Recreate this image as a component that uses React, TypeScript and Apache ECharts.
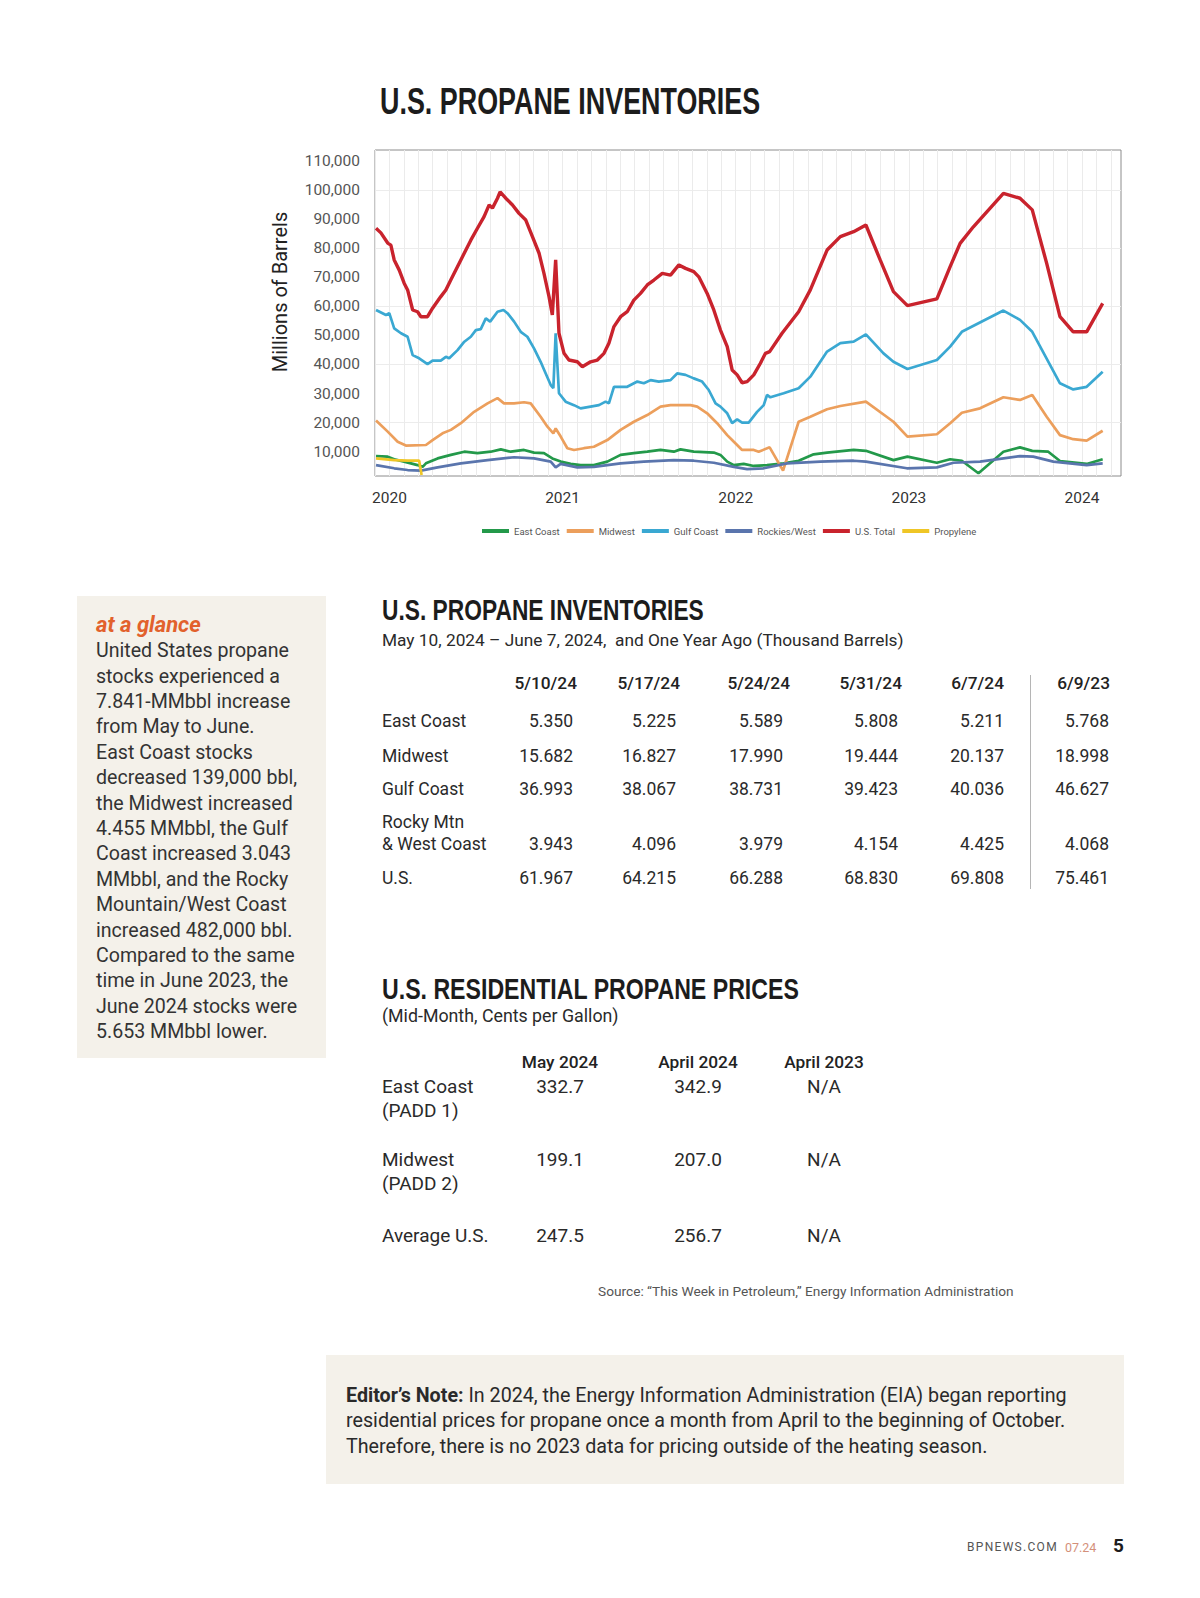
import React, { useEffect, useRef } from "react";
import * as echarts from "echarts";

// ---------- chart data (x = months since Jan 2020, y = thousand barrels) ----------
const YEAR_LABELS = ["2020", "2021", "2022", "2023", "2024"];
const Y_TICKS = [10000, 20000, 30000, 40000, 50000, 60000, 70000, 80000, 90000, 100000, 110000];
const Y_GRID = [20000, 40000, 60000, 80000, 100000];

const EAST_COAST: number[][] = [
  [-0.93, 8500], [-0.12, 8300], [0.33, 7400], [1.02, 6600], [1.95, 5400], [2.3, 4800], [2.53, 6000], [3.34, 7700],
  [4.26, 8900], [5.19, 10000], [6.1, 9500], [7.02, 10000], [7.72, 10800], [8.41, 10000], [9.33, 10600], [10.02, 9700],
  [10.71, 9500], [11.29, 7700], [11.87, 6600], [12.56, 5800], [13.25, 5400], [14.17, 5400], [15.1, 6600], [16.02, 8900],
  [16.94, 9500], [17.87, 10000], [18.79, 10600], [19.71, 10000], [20.17, 10800], [21.09, 10000], [22.48, 9700],
  [22.94, 8900], [23.41, 6600], [23.87, 5400], [24.55, 5800], [25.25, 5100], [26.17, 5400], [27.32, 6000], [28.36, 6900],
  [29.4, 9100], [30.33, 9700], [32.17, 10600], [33.02, 10300], [34.93, 7100], [35.9, 8300], [37.94, 6200], [38.86, 7400],
  [39.67, 6900], [40.82, 2600], [42.55, 10000], [43.7, 11500], [44.55, 10300], [45.66, 10000], [46.47, 6800],
  [48.32, 5800], [49.43, 7400],
];
const MIDWEST: number[][] = [
  [-0.93, 20700], [-0.12, 16900], [0.57, 13400], [1.14, 12100], [2.53, 12300], [2.99, 14000], [3.68, 16300], [4.26, 17500],
  [4.95, 19800], [5.87, 23700], [6.8, 26600], [7.49, 28400], [7.94, 26600], [8.64, 26600], [9.33, 27000], [9.79, 26600],
  [10.48, 22000], [10.95, 18600], [11.36, 16300], [11.52, 18000], [11.87, 15200], [12.33, 11200], [12.79, 10600],
  [13.48, 11200], [14.17, 11700], [15.1, 14000], [16.02, 17500], [16.94, 20300], [17.87, 22600], [18.79, 25500],
  [19.48, 26000], [20.87, 26000], [21.33, 25500], [22.02, 23200], [22.71, 19800], [23.41, 15700], [23.87, 13400],
  [24.44, 10600], [25.25, 10600], [25.59, 10000], [26.35, 11500], [27.28, 3500], [28.36, 20300], [29.17, 22000],
  [30.33, 24600], [31.25, 25700], [33.02, 27200], [34.93, 20300], [35.9, 15200], [37.94, 16000], [38.86, 19800],
  [39.67, 23400], [40.93, 24900], [42.55, 28700], [43.7, 27800], [44.55, 29500], [45.55, 22000], [46.47, 15700],
  [47.39, 14300], [48.32, 13800], [49.43, 17200],
];
const GULF_COAST: number[][] = [
  [-0.93, 58700], [-0.24, 57000], [-0.01, 57600], [0.33, 52400], [0.8, 50700], [1.26, 49500], [1.61, 43200], [2.06, 42100],
  [2.64, 40100], [2.99, 41300], [3.56, 41300], [3.91, 42600], [4.14, 42100], [4.72, 44900], [5.19, 47800], [5.64, 49500],
  [5.99, 51800], [6.33, 52100], [6.68, 55800], [6.98, 54700], [7.49, 58100], [7.9, 58700], [8.18, 57600], [8.64, 54700],
  [9.1, 51200], [9.56, 49500], [10.02, 45500], [10.48, 40900], [10.83, 36900], [11.18, 32900], [11.36, 31800],
  [11.52, 50700], [11.75, 30100], [12.21, 27200], [12.79, 26000], [13.25, 24900], [13.94, 25500], [14.52, 26000],
  [14.98, 27200], [15.21, 26600], [15.56, 32300], [16.48, 32300], [17.18, 34100], [17.63, 33500], [18.1, 34600],
  [18.67, 34100], [19.48, 34600], [19.94, 36900], [20.52, 36400], [21.09, 35200], [21.67, 34100], [22.13, 31200],
  [22.6, 26600], [22.94, 25500], [23.41, 23200], [23.75, 19800], [24.1, 21100], [24.44, 20000], [24.9, 20000],
  [25.48, 23700], [25.94, 26000], [26.17, 29500], [26.4, 28700], [27.32, 30100], [28.36, 31800], [29.17, 35800],
  [30.33, 44400], [31.25, 47300], [32.17, 47800], [33.02, 50300], [34.24, 43800], [34.93, 40900], [35.9, 38400],
  [37.94, 41500], [38.86, 46100], [39.67, 51200], [42.55, 58500], [43.7, 55300], [44.55, 51200], [46.47, 33500],
  [47.39, 31400], [48.32, 32300], [49.43, 37500],
];
const ROCKIES_WEST: number[][] = [
  [-0.93, 5400], [0.33, 4300], [1.26, 3700], [2.18, 3500], [3.34, 4600], [4.95, 6000], [6.8, 7100], [8.64, 8100],
  [10.02, 7700], [11.18, 6600], [11.52, 4600], [11.87, 5800], [13.02, 4600], [14.17, 4800], [16.02, 6000], [17.63, 6600],
  [19.71, 7100], [21.09, 6900], [22.48, 6200], [23.87, 4800], [24.79, 4000], [25.94, 4300], [27.56, 6000], [29.86, 6600],
  [32.17, 6900], [33.02, 6600], [35.86, 4300], [37.94, 4600], [39.09, 6200], [40.93, 6600], [43.7, 8500], [44.62, 8300],
  [46.01, 6600], [48.32, 5400], [49.43, 6000],
];
const US_TOTAL: number[][] = [
  [-0.93, 86800], [-0.59, 85200], [-0.12, 81700], [0.1, 81000], [0.33, 75900], [0.68, 72400], [1.02, 67900], [1.26, 65600],
  [1.61, 58700], [1.95, 58100], [2.18, 56400], [2.64, 56400], [2.99, 59300], [3.56, 63300], [3.91, 65600], [4.26, 69100],
  [4.95, 75900], [5.64, 82700], [6.1, 86800], [6.56, 90800], [6.91, 94800], [7.14, 93700], [7.49, 97100], [7.67, 99300],
  [8.06, 97100], [8.53, 94800], [8.98, 91900], [9.45, 89600], [9.91, 83900], [10.37, 78200], [10.71, 71300], [11.06, 63300],
  [11.29, 57000], [11.52, 75900], [11.75, 50700], [12.1, 43800], [12.44, 41500], [13.02, 40900], [13.37, 39200],
  [13.94, 40900], [14.41, 41500], [14.87, 43800], [15.21, 47300], [15.56, 53000], [16.02, 56400], [16.48, 58100],
  [16.94, 62100], [17.4, 64400], [17.87, 67300], [18.33, 69000], [18.91, 71300], [19.48, 70700], [20.06, 74200],
  [20.52, 73000], [21.09, 71900], [21.44, 70100], [22.02, 64400], [22.48, 58700], [22.94, 51800], [23.41, 46100],
  [23.75, 38100], [24.1, 36400], [24.44, 33700], [24.79, 34100], [25.25, 36400], [25.71, 40400], [26.06, 43800],
  [26.35, 44400], [27.21, 50700], [28.36, 58100], [29.17, 65600], [30.33, 79300], [31.25, 83900], [32.17, 85600],
  [33.02, 87900], [34.01, 75900], [34.93, 65000], [35.9, 60200], [37.94, 62500], [38.86, 73600], [39.55, 81600],
  [40.47, 87300], [42.55, 98800], [43.7, 97100], [44.55, 93100], [45.55, 74700], [46.47, 56400], [47.39, 51200],
  [48.32, 51200], [49.43, 61000],
];
const PROPYLENE: number[][] = [
  [-0.93, 7700], [0.33, 7100], [1.26, 6900], [2.06, 6900], [2.23, 2000],
];

const SERIES_NAMES = ["East Coast", "Midwest", "Gulf Coast", "Rockies/West", "U.S. Total", "Propylene"];
const SERIES_DATA = [EAST_COAST, MIDWEST, GULF_COAST, ROCKIES_WEST, US_TOTAL, PROPYLENE];
const SERIES_COLORS = ["#23994a", "#ec9f5c", "#3aa8d2", "#5a75ad", "#c9232d", "#efc626"];

// ---------- tables ----------
const INV_DATES = ["5/10/24", "5/17/24", "5/24/24", "5/31/24", "6/7/24", "6/9/23"];
const INV_LABELS = [["East Coast"], ["Midwest"], ["Gulf Coast"], ["Rocky Mtn", "& West Coast"], ["U.S."]];
const INV_EAST = ["5.350", "5.225", "5.589", "5.808", "5.211", "5.768"];
const INV_MIDWEST = ["15.682", "16.827", "17.990", "19.444", "20.137", "18.998"];
const INV_GULF = ["36.993", "38.067", "38.731", "39.423", "40.036", "46.627"];
const INV_ROCKY = ["3.943", "4.096", "3.979", "4.154", "4.425", "4.068"];
const INV_US = ["61.967", "64.215", "66.288", "68.830", "69.808", "75.461"];
const INV_VALUES = [INV_EAST, INV_MIDWEST, INV_GULF, INV_ROCKY, INV_US];

const PRICE_COLS = ["May 2024", "April 2024", "April 2023"];
const PRICE_LABELS = [["East Coast", "(PADD 1)"], ["Midwest", "(PADD 2)"], ["Average U.S."]];
const PRICE_EAST = ["332.7", "342.9", "N/A"];
const PRICE_MIDWEST = ["199.1", "207.0", "N/A"];
const PRICE_AVG = ["247.5", "256.7", "N/A"];
const PRICE_VALUES = [PRICE_EAST, PRICE_MIDWEST, PRICE_AVG];

const SIDEBAR_LINES = [
  "United States propane",
  "stocks experienced a",
  "7.841-MMbbl increase",
  "from May to June.",
  "East Coast stocks",
  "decreased 139,000 bbl,",
  "the Midwest increased",
  "4.455 MMbbl, the Gulf",
  "Coast increased 3.043",
  "MMbbl, and the Rocky",
  "Mountain/West Coast",
  "increased 482,000 bbl.",
  "Compared to the same",
  "time in June 2023, the",
  "June 2024 stocks were",
  "5.653 MMbbl lower.",
];

const NOTE_LINES = [
  "In 2024, the Energy Information Administration (EIA) began reporting",
  "residential prices for propane once a month from April to the beginning of October.",
  "Therefore, there is no 2023 data for pricing outside of the heating season.",
];

const SANS = 'Roboto, "Noto Sans", "Liberation Sans", sans-serif';
const HEAD = '"Liberation Sans", Arial, sans-serif';

function T(props: any) {
  const { x, y, s, w = 400, c = "#2a2a2a", a = "left", f = SANS, ls, italic, sx, children } = props;
  const lh = s * 1.2;
  const style: any = {
    position: "absolute",
    top: y - lh / 2,
    lineHeight: lh + "px",
    fontSize: s,
    fontWeight: w,
    color: c,
    fontFamily: f,
    whiteSpace: "nowrap",
    letterSpacing: ls,
    fontStyle: italic ? "italic" : "normal",
  };
  if (a === "left") {
    style.left = x;
    if (sx) {
      style.transform = `scaleX(${sx})`;
      style.transformOrigin = "left center";
    }
  } else if (a === "right") style.right = 1200 - x;
  else {
    style.left = x;
    style.transform = "translateX(-50%)";
  }
  return <div style={style}>{children}</div>;
}

const MONTH_TICKS: number[] = [];
for (let m = -1; m <= 50; m++) MONTH_TICKS.push(m);

export default function App() {
  const ref = useRef<HTMLDivElement>(null);

  useEffect(() => {
    if (!ref.current) return;
    const chart = echarts.init(ref.current, null, { renderer: "svg" });
    chart.setOption({
      animation: false,
      grid: {
        left: 375,
        top: 150,
        width: 746,
        height: 326,
        show: true,
        borderColor: "#8c8c8c",
        borderWidth: 1,
        backgroundColor: "transparent",
        containLabel: false,
        outerBoundsMode: "none",
      },
      xAxis: {
        type: "value",
        min: -1,
        max: 50.7,
        axisLine: { show: false },
        axisTick: { show: false, customValues: MONTH_TICKS },
        splitLine: { show: true, lineStyle: { color: "#ebebeb", width: 1 } },
        axisLabel: {
          customValues: [0, 12, 24, 36, 48],
          formatter: (v: number) => YEAR_LABELS[Math.round(v / 12)],
          color: "#333",
          fontSize: 15.5,
          fontFamily: "Roboto",
          margin: 14,
        },
      },
      yAxis: {
        type: "value",
        min: 1650,
        max: 113680,
        axisLine: { show: false },
        axisTick: { show: false, customValues: Y_GRID },
        splitLine: { show: true, lineStyle: { color: "#ececec", width: 1 } },
        axisLabel: {
          customValues: Y_TICKS,
          formatter: (v: number) => v.toLocaleString("en-US"),
          color: "#555",
          fontSize: 15.5,
          fontFamily: "Roboto",
          margin: 15,
        },
      },
      legend: {
        left: 477,
        top: 521,
        icon: "rect",
        itemWidth: 27,
        itemHeight: 4,
        itemGap: 7,
        textStyle: { fontSize: 9.5, color: "#555", fontFamily: "Roboto" },
        data: SERIES_NAMES,
        selectedMode: false,
      },
      graphic: [
        {
          type: "text",
          x: 280,
          y: 292,
          rotation: Math.PI / 2,
          style: {
            text: "Millions of Barrels",
            align: "center",
            verticalAlign: "middle",
            fontSize: 20,
            fontFamily: "Roboto",
            fill: "#222",
          },
        },
      ],
      series: SERIES_NAMES.map((name, i) => ({
        type: "line",
        name,
        data: SERIES_DATA[i],
        showSymbol: false,
        symbol: "none",
        silent: true,
        lineStyle: { color: SERIES_COLORS[i], width: i === 4 ? 3.4 : 2.7 },
        itemStyle: { color: SERIES_COLORS[i] },
        z: i === 5 ? 5 : 2,
      })),
    });
    return () => chart.dispose();
  }, []);

  const numRight = [573, 676, 783, 898, 1004, 1109];
  const headRight = [577, 680, 790, 902, 1004, 1110];
  const rowY = [721, 756, 789.5, 844.6, 878];
  const priceX = [560, 698, 824];
  const priceRowY = [1087, 1160, 1236];

  return (
    <div
      style={{
        position: "absolute",
        left: 0,
        top: 0,
        width: 1200,
        height: 1598,
        background: "#fff",
        overflow: "hidden",
        fontFamily: SANS,
      }}
    >
      <div ref={ref} style={{ position: "absolute", left: 0, top: 0, width: 1200, height: 560 }} />

      <T x={380} y={102} s={37} w={700} f={HEAD} sx={0.727} c="#1c1c1c">
        U.S. PROPANE INVENTORIES
      </T>

      {/* sidebar */}
      <div
        style={{ position: "absolute", left: 77, top: 596, width: 249, height: 462, background: "#f4f1ea" }}
      />
      <T x={96} y={625} s={22} w={700} italic c="#e2612c">
        at a glance
      </T>
      {SIDEBAR_LINES.map((line, i) => (
        <T key={i} x={96} y={651 + i * 25.4} s={19.6} c="#333">
          {line}
        </T>
      ))}

      {/* inventories table */}
      <T x={382} y={610} s={30} w={700} f={HEAD} sx={0.759} c="#1c1c1c">
        U.S. PROPANE INVENTORIES
      </T>
      <T x={382} y={640} s={17.3} c="#2a2a2a">
        May 10, 2024 – June 7, 2024,&nbsp; and One Year Ago (Thousand Barrels)
      </T>
      {INV_DATES.map((d, i) => (
        <T key={d} x={headRight[i]} y={683} s={17.3} w={500} a="right" c="#222">
          {d}
        </T>
      ))}
      {INV_LABELS.map((lab, r) =>
        lab.map((l, k) => (
          <T key={r + "-" + k} x={382} y={rowY[r] - (lab.length - 1 - k) * 22.5} s={17.5} c="#2a2a2a">
            {l}
          </T>
        ))
      )}
      {INV_VALUES.map((vals, r) =>
        vals.map((v, i) => (
          <T key={r + "-" + i} x={numRight[i]} y={rowY[r]} s={17.5} a="right" c="#2a2a2a">
            {v}
          </T>
        ))
      )}
      <div style={{ position: "absolute", left: 1030, top: 675, width: 1, height: 214, background: "#b5b5b5" }} />

      {/* prices table */}
      <T x={382} y={989} s={30} w={700} f={HEAD} sx={0.771} c="#1c1c1c">
        U.S. RESIDENTIAL PROPANE PRICES
      </T>
      <T x={382} y={1016} s={17.8} c="#2a2a2a">
        (Mid-Month, Cents per Gallon)
      </T>
      {PRICE_COLS.map((h, i) => (
        <T key={h} x={priceX[i]} y={1062} s={17.3} w={500} a="center" c="#222">
          {h}
        </T>
      ))}
      {PRICE_LABELS.map((lab, r) =>
        lab.map((l, k) => (
          <T key={r + "-" + k} x={382} y={priceRowY[r] + k * 24.5} s={19} c="#2a2a2a">
            {l}
          </T>
        ))
      )}
      {PRICE_VALUES.map((vals, r) =>
        vals.map((v, i) => (
          <T key={r + "-" + i} x={priceX[i]} y={priceRowY[r]} s={19} a="center" c="#2a2a2a">
            {v}
          </T>
        ))
      )}

      <T x={598} y={1291} s={13.7} c="#555">
        Source: “This Week in Petroleum,” Energy Information Administration
      </T>

      {/* editor's note */}
      <div
        style={{ position: "absolute", left: 326, top: 1355, width: 798, height: 129, background: "#f4f1ea" }}
      />
      {NOTE_LINES.map((line, i) => (
        <T key={i} x={346} y={1395.5 + i * 25.5} s={19.7} c="#2a2a2a">
          {i === 0 ? (
            <>
              <span style={{ fontWeight: 700 }}>Editor’s Note:</span> {line}
            </>
          ) : (
            line
          )}
        </T>
      ))}

      {/* footer */}
      <T x={967} y={1547} s={12} c="#555" ls={1.3}>
        BPNEWS.COM
      </T>
      <T x={1065} y={1547} s={12.5} c="#d4907a">
        07.24
      </T>
      <T x={1113} y={1546} s={19} w={700} c="#1c1c1c">
        5
      </T>
    </div>
  );
}
